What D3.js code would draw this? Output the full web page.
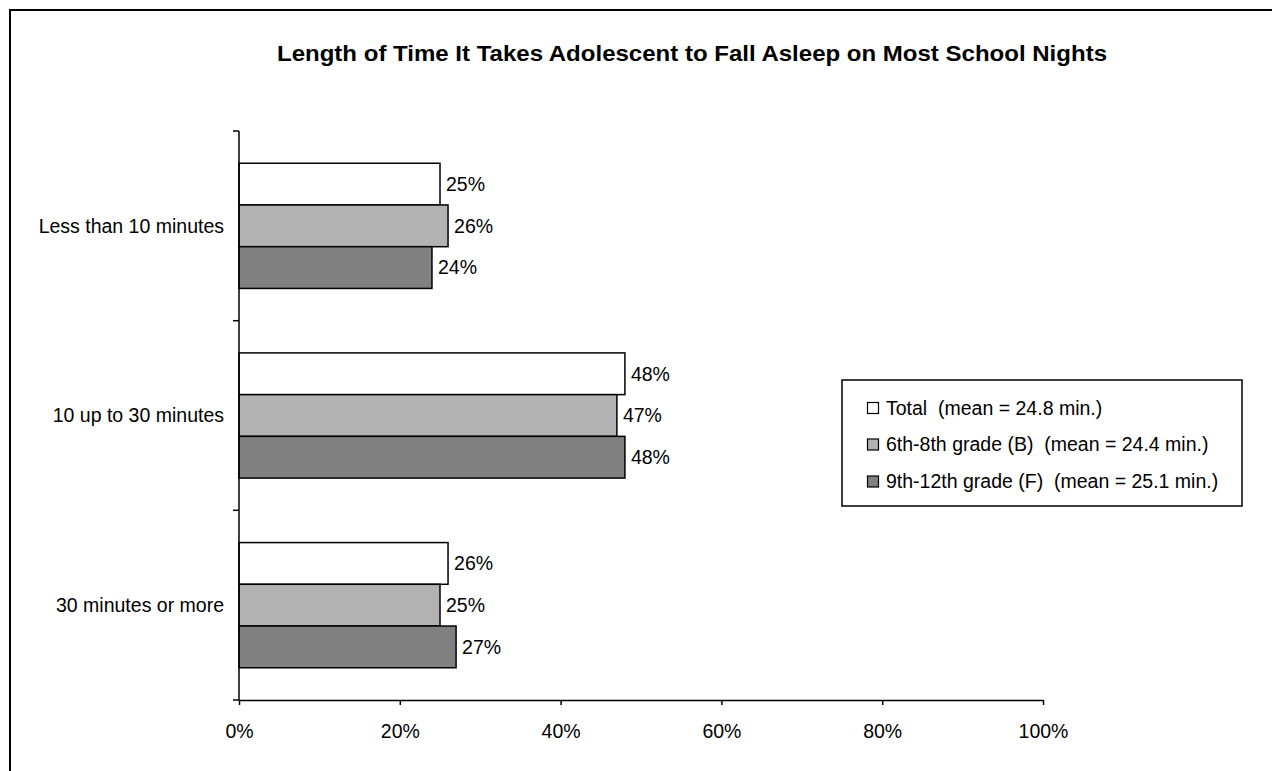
<!DOCTYPE html>
<html><head><meta charset="utf-8">
<script src="https://cdn.jsdelivr.net/npm/d3@7"></script>
<style>body{margin:0;background:#fff}svg{display:block;font-family:"Liberation Sans",Arial,sans-serif}text{white-space:pre}</style>
</head><body><svg id="c" width="1272" height="771"></svg>
<script>
const categories = ["Less than 10 minutes", "10 up to 30 minutes", "30 minutes or more"];
const seriesNames = ["Total  (mean = 24.8 min.)", "6th-8th grade (B)  (mean = 24.4 min.)", "9th-12th grade (F)  (mean = 25.1 min.)"];
const seriesColors = ["#ffffff", "#b2b2b2", "#808080"];
const totalValues = [25, 48, 26];
const middleValues = [26, 47, 25];
const highValues = [24, 48, 27];
const xTicks = [0, 20, 40, 60, 80, 100];
const title = "Length of Time It Takes Adolescent to Fall Asleep on Most School Nights";

const series = [totalValues, middleValues, highValues];
const svg = d3.select("#c");
const FS = 19.5;

svg.append("rect").attr("x", 10).attr("y", 10).attr("width", 1400).attr("height", 900)
  .attr("fill", "none").attr("stroke", "#000").attr("stroke-width", 2);

const x = d3.scaleLinear().domain([0, 100]).range([239, 1043]);
const y = d3.scaleBand().domain(categories).range([131, 700]).paddingInner(0.34).paddingOuter(0.17);
const ySub = d3.scaleBand().domain([0, 1, 2]).range([0, y.bandwidth()]);

svg.append("text").attr("x", 692).attr("y", 61).attr("text-anchor", "middle")
  .attr("font-weight", "bold").attr("font-size", 21.5)
  .attr("textLength", 830).attr("lengthAdjust", "spacingAndGlyphs").text(title);

// bars
categories.forEach((c, i) => {
  series.forEach((vals, s) => {
    const v = vals[i];
    svg.append("rect").attr("x", x(0)).attr("y", y(c) + ySub(s))
      .attr("width", x(v) - x(0)).attr("height", ySub.bandwidth())
      .attr("fill", seriesColors[s]).attr("stroke", "#000").attr("stroke-width", 1.5);
    svg.append("text").attr("x", x(v) + 6).attr("y", y(c) + ySub(s) + ySub.bandwidth() / 2)
      .attr("dy", "0.35em").attr("font-size", FS).text(v + "%");
  });
  svg.append("text").attr("x", 224).attr("y", y(c) + y.bandwidth() / 2)
    .attr("dy", "0.35em").attr("text-anchor", "end").attr("font-size", FS).text(c);
});

// y axis
const yEdges = [131, 320.7, 510.3, 700];
svg.append("line").attr("x1", 239).attr("x2", 239).attr("y1", 131).attr("y2", 700)
  .attr("stroke", "#000").attr("stroke-width", 1.5);
yEdges.forEach(e => svg.append("line").attr("x1", 233).attr("x2", 239).attr("y1", e).attr("y2", e)
  .attr("stroke", "#000").attr("stroke-width", 1.5));

// x axis
const xAxis = d3.axisBottom(x).tickValues(xTicks).tickFormat(d => d + "%").tickSize(5).tickSizeOuter(0);
const gx = svg.append("g").attr("transform", "translate(0,700)").call(xAxis);
gx.select(".domain").attr("stroke-width", 1.5);
gx.selectAll(".tick line").attr("stroke-width", 1.5);
gx.selectAll(".tick text").attr("font-size", FS).attr("font-family", "Liberation Sans, Arial, sans-serif").attr("y", 24).attr("fill", "#000");

// legend
svg.append("rect").attr("x", 842).attr("y", 380).attr("width", 400).attr("height", 126)
  .attr("fill", "#fff").attr("stroke", "#000").attr("stroke-width", 1.5);
const legY = [408, 444.5, 481.5];
seriesNames.forEach((n, s) => {
  svg.append("rect").attr("x", 867.5).attr("y", legY[s] - 5.5).attr("width", 11).attr("height", 11)
    .attr("fill", seriesColors[s]).attr("stroke", "#000").attr("stroke-width", 1.2);
  svg.append("text").attr("x", 886).attr("y", legY[s]).attr("dy", "0.35em").attr("font-size", FS).text(n);
});
</script></body></html>
